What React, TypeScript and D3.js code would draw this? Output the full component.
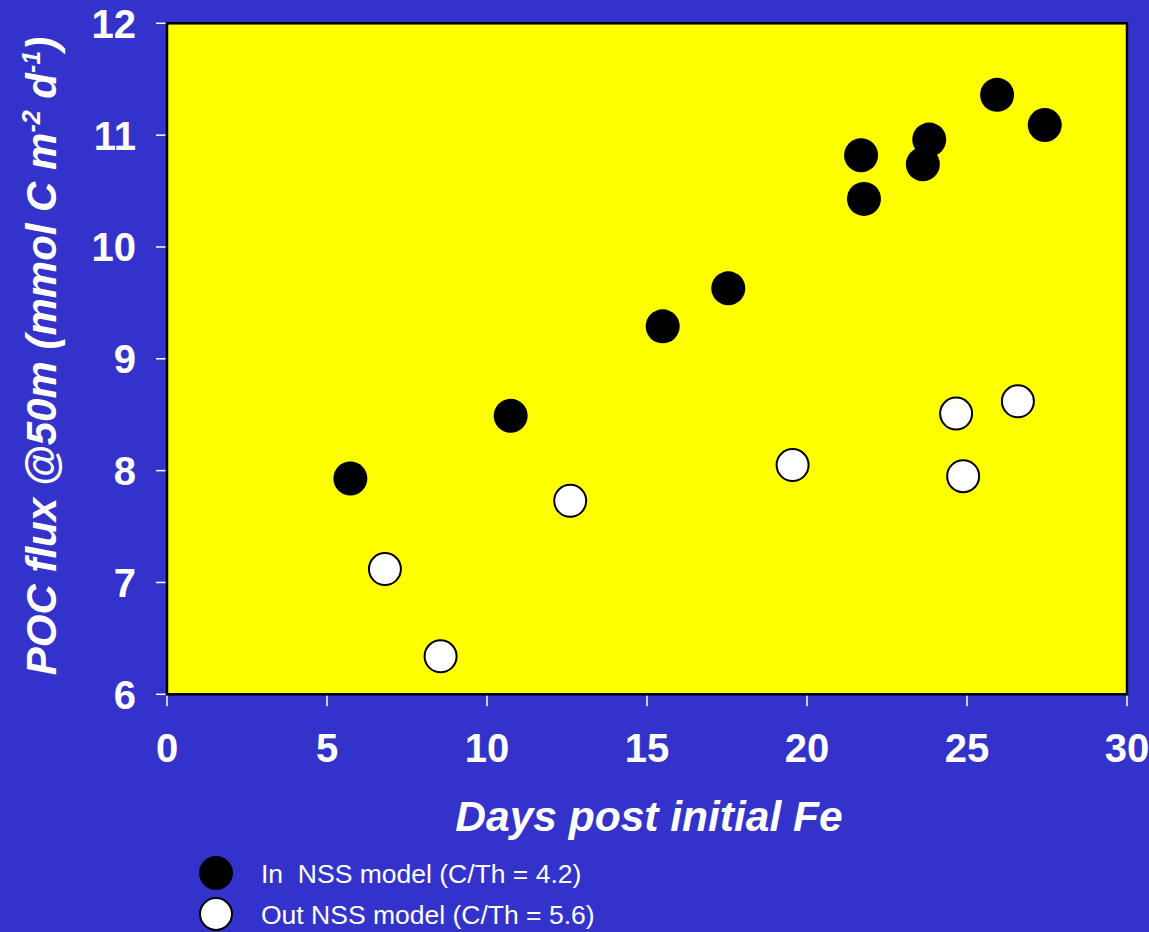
import React, { useEffect, useRef } from "react";
import * as d3 from "d3";

const inDays = [5.73, 10.74, 15.49, 17.54, 21.69, 21.78, 23.62, 23.82, 25.94, 27.43];
const inFlux = [7.93, 8.49, 9.29, 9.63, 10.82, 10.43, 10.74, 10.96, 11.36, 11.09];
const outDays = [6.81, 8.55, 12.6, 19.55, 24.66, 24.88, 26.59];
const outFlux = [7.12, 6.34, 7.73, 8.05, 8.51, 7.95, 8.62];
const xTicks = [0, 5, 10, 15, 20, 25, 30];
const yTicks = [6, 7, 8, 9, 10, 11, 12];
const legendLabels = ["In  NSS model (C/Th = 4.2)", "Out NSS model (C/Th = 5.6)"];

const W = 1149;
const H = 932;
const BG = "#3333CC";
const FONT = "'Liberation Sans', Arial, sans-serif";

export default function App() {
  const ref = useRef<SVGSVGElement | null>(null);

  useEffect(() => {
    const svg = d3.select(ref.current);
    svg.selectAll("*").remove();

    const left = 167, right = 1127, top = 23.3, bottom = 694.3;
    const x = d3.scaleLinear().domain([0, 30]).range([left, right]);
    const y = d3.scaleLinear().domain([6, 12]).range([bottom, top]);

    svg.append("rect").attr("width", W).attr("height", H).attr("fill", BG);

    svg.append("rect")
      .attr("x", left).attr("y", top)
      .attr("width", right - left).attr("height", bottom - top)
      .attr("fill", "#FFFF00")
      .attr("stroke", "#000").attr("stroke-width", 2.5);

    // ticks
    svg.selectAll(".xt").data(xTicks).enter().append("line")
      .attr("x1", d => x(d)).attr("x2", d => x(d))
      .attr("y1", bottom + 1.5).attr("y2", bottom + 12)
      .attr("stroke", "#fff").attr("stroke-width", 1.5);
    svg.selectAll(".yt").data(yTicks).enter().append("line")
      .attr("x1", left - 1.5).attr("x2", left - 11)
      .attr("y1", d => y(d)).attr("y2", d => y(d))
      .attr("stroke", "#fff").attr("stroke-width", 1.5);

    svg.selectAll(".xl").data(xTicks).enter().append("text")
      .attr("x", d => x(d)).attr("y", 762)
      .attr("text-anchor", "middle")
      .attr("font-family", FONT).attr("font-weight", "bold").attr("font-size", 40)
      .attr("fill", "#fff").text(d => String(d));
    svg.selectAll(".yl").data(yTicks).enter().append("text")
      .attr("x", 136).attr("y", d => y(d) + 14.5)
      .attr("text-anchor", "end")
      .attr("font-family", FONT).attr("font-weight", "bold").attr("font-size", 40)
      .attr("fill", "#fff").text(d => String(d));

    // axis titles
    svg.append("text")
      .attr("x", 649).attr("y", 831)
      .attr("text-anchor", "middle")
      .attr("font-family", FONT).attr("font-weight", "bold").attr("font-style", "italic")
      .attr("font-size", 42.5).attr("fill", "#fff")
      .text("Days post initial Fe");

    const yt = svg.append("text")
      .attr("transform", `translate(56,356) rotate(-90)`)
      .attr("text-anchor", "middle")
      .attr("font-family", FONT).attr("font-weight", "bold").attr("font-style", "italic")
      .attr("font-size", 42).attr("fill", "#fff");
    yt.append("tspan").text("POC flux @50m (mmol C m");
    yt.append("tspan").attr("dy", -16).attr("font-size", 25).text("-2");
    yt.append("tspan").attr("dy", 16).text(" d");
    yt.append("tspan").attr("dy", -16).attr("font-size", 25).text("-1");
    yt.append("tspan").attr("dy", 16).text(")");

    // points
    const g = svg.append("g");
    g.selectAll(".op").data(outDays.map((d, i) => [d, outFlux[i]])).enter().append("circle")
      .attr("cx", d => x(d[0])).attr("cy", d => y(d[1])).attr("r", 16)
      .attr("fill", "#fff").attr("stroke", "#000").attr("stroke-width", 2);
    g.selectAll(".ip").data(inDays.map((d, i) => [d, inFlux[i]])).enter().append("circle")
      .attr("cx", d => x(d[0])).attr("cy", d => y(d[1])).attr("r", 17)
      .attr("fill", "#000");

    // legend
    const ly = [873, 914];
    const fills = ["#000", "#fff"];
    legendLabels.forEach((lab, i) => {
      svg.append("circle").attr("cx", 216).attr("cy", ly[i]).attr("r", i === 0 ? 17 : 16)
        .attr("fill", fills[i]).attr("stroke", "#000").attr("stroke-width", i === 0 ? 0 : 2);
      svg.append("text")
        .attr("x", 261).attr("y", ly[i] + 10)
        .attr("font-family", FONT).attr("font-size", 26.5).attr("fill", "#fff")
        .style("white-space", "pre")
        .attr("xml:space", "preserve")
        .text(lab);
    });
  }, []);

  return (
    <svg
      ref={ref}
      width={W}
      height={H}
      style={{ position: "absolute", left: 0, top: 0, display: "block" }}
    />
  );
}
